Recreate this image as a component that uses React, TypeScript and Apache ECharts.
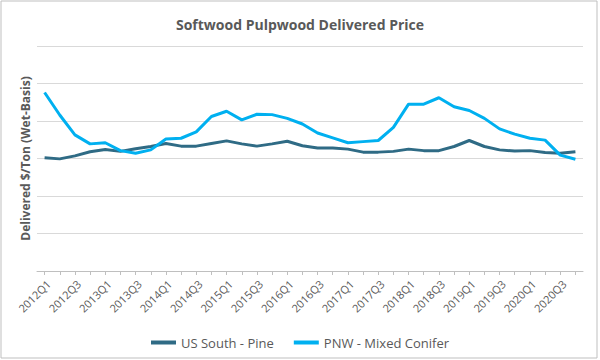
import React, { useEffect, useRef } from "react";
import * as echarts from "echarts";

const categories = [
  "2012Q1", "2012Q2", "2012Q3", "2012Q4",
  "2013Q1", "2013Q2", "2013Q3", "2013Q4",
  "2014Q1", "2014Q2", "2014Q3", "2014Q4",
  "2015Q1", "2015Q2", "2015Q3", "2015Q4",
  "2016Q1", "2016Q2", "2016Q3", "2016Q4",
  "2017Q1", "2017Q2", "2017Q3", "2017Q4",
  "2018Q1", "2018Q2", "2018Q3", "2018Q4",
  "2019Q1", "2019Q2", "2019Q3", "2019Q4",
  "2020Q1", "2020Q2", "2020Q3", "2020Q4",
];

const usSouthPine = [
  30.2, 29.9, 30.7, 31.8, 32.4, 31.9, 32.6, 33.2, 34.0, 33.3, 33.3, 34.0,
  34.7, 33.9, 33.3, 33.9, 34.6, 33.4, 32.8, 32.8, 32.5, 31.7, 31.7, 31.9,
  32.5, 32.1, 32.1, 33.2, 34.8, 33.2, 32.3, 32.0, 32.1, 31.6, 31.4, 31.8,
];

const pnwMixedConifer = [
  47.6, 41.6, 36.3, 33.9, 34.2, 32.1, 31.4, 32.3, 35.2, 35.4, 37.1, 41.2,
  42.6, 40.3, 41.8, 41.7, 40.7, 39.2, 36.8, 35.5, 34.2, 34.5, 34.8, 38.3,
  44.5, 44.5, 46.2, 43.8, 42.8, 40.7, 37.9, 36.5, 35.4, 34.9, 30.9, 29.8,
];

const seriesNames = ["US South - Pine", "PNW - Mixed Conifer"];
const titleText = "Softwood Pulpwood Delivered Price";
const yAxisTitle = "Delivered $/Ton (Wet-Basis)";

export default function App() {
  const ref = useRef<HTMLDivElement>(null);

  useEffect(() => {
    if (!ref.current) return;
    const chart = echarts.init(ref.current, null, { renderer: "svg" });
    const font = "'Open Sans', sans-serif";
    chart.setOption({
      animation: false,
      backgroundColor: "#ffffff",
      textStyle: { fontFamily: font },
      graphic: [
        {
          type: "rect",
          shape: { x: 1, y: 1, width: 596, height: 357 },
          style: { fill: "none", stroke: "#bfbfbf", lineWidth: 1 },
          silent: true,
        },
      ],
      title: {
        text: titleText,
        left: "center",
        top: 12,
        textStyle: {
          fontFamily: font,
          fontSize: 14,
          fontWeight: "bold",
          color: "#595959",
        },
      },
      legend: {
        data: seriesNames,
        left: "center",
        top: 331,
        icon: "rect",
        itemWidth: 25,
        itemHeight: 4,
        itemGap: 20,
        textStyle: { fontFamily: font, fontSize: 13, color: "#595959" },
      },
      grid: { left: 37, right: 17, top: 46, bottom: 89, containLabel: false },
      xAxis: {
        type: "category",
        data: categories,
        boundaryGap: true,
        axisLine: { show: true, lineStyle: { color: "#bfbfbf", width: 1 } },
        axisTick: {
          show: true,
          interval: 0,
          alignWithLabel: true,
          length: 4,
          lineStyle: { color: "#bfbfbf" },
        },
        axisLabel: {
          interval: 1,
          rotate: 45,
          fontFamily: font,
          fontSize: 11,
          color: "#595959",
          margin: 7,
          verticalAlign: "top",
        },
        splitLine: { show: false },
      },
      yAxis: {
        type: "value",
        min: 0,
        max: 60,
        interval: 10,
        name: yAxisTitle,
        nameLocation: "middle",
        nameGap: 6,
        nameTextStyle: {
          fontFamily: font,
          fontSize: 12,
          fontWeight: "bold",
          color: "#595959",
        },
        axisLine: { show: false },
        axisTick: { show: false },
        axisLabel: { show: false },
        splitLine: { show: true, lineStyle: { color: "#d9d9d9", width: 1 } },
      },
      series: [
        {
          name: seriesNames[0],
          type: "line",
          data: usSouthPine,
          symbol: "none",
          color: "#2f6b85",
          lineStyle: { width: 3, color: "#2f6b85" },
        },
        {
          name: seriesNames[1],
          type: "line",
          data: pnwMixedConifer,
          symbol: "none",
          color: "#00b0f0",
          lineStyle: { width: 3, color: "#00b0f0" },
        },
      ],
    });
    return () => chart.dispose();
  }, []);

  return (
    <div
      ref={ref}
      style={{ position: "absolute", left: 0, top: 0, width: 600, height: 360 }}
    />
  );
}
